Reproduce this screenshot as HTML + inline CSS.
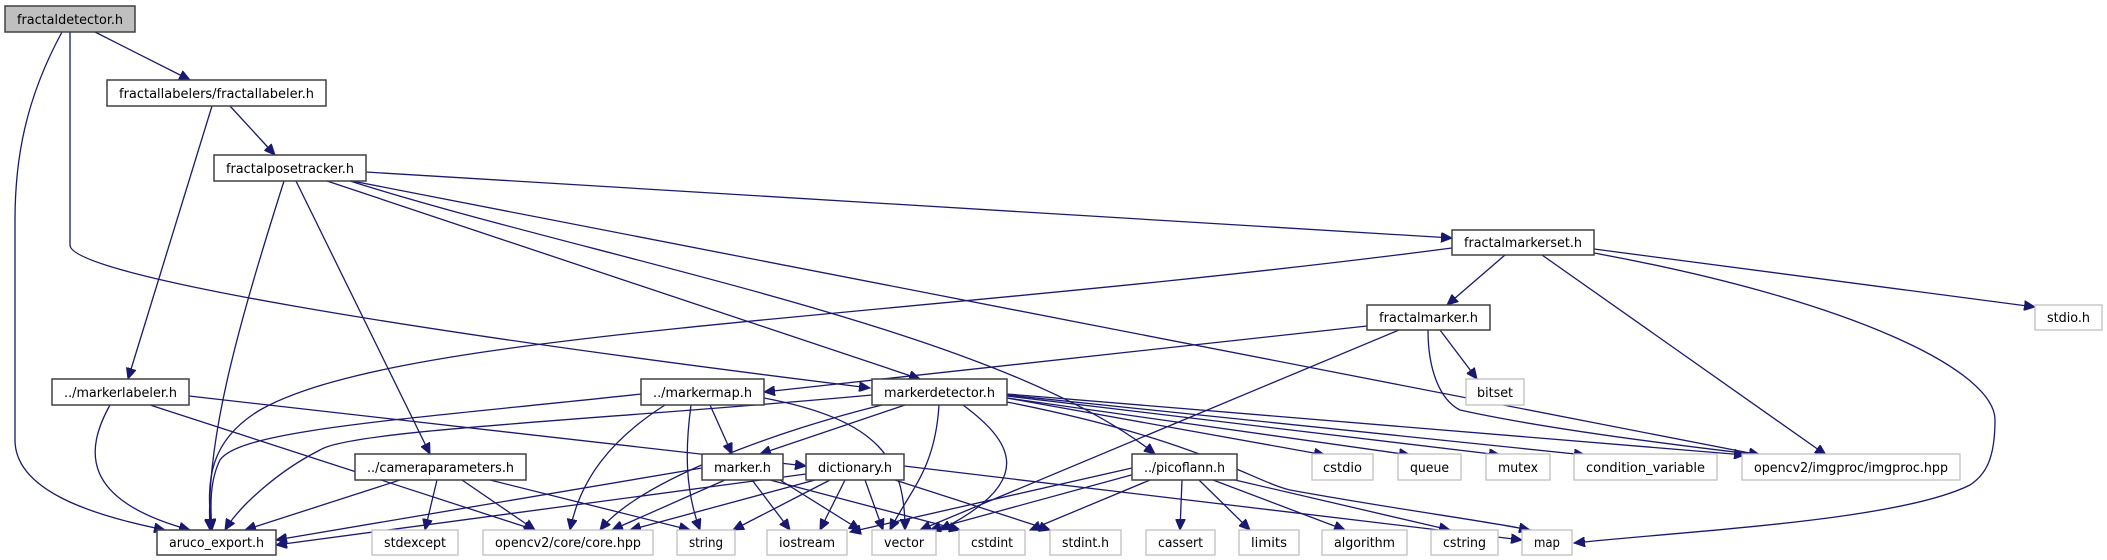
<!DOCTYPE html>
<html><head><meta charset="utf-8"><style>
html,body{margin:0;padding:0;background:#fff;}
svg{display:block;}
text{font-family:"DejaVu Sans Condensed","DejaVu Sans","Liberation Sans",sans-serif;font-size:13px;fill:#000;}
.e{fill:none;stroke:#191970;stroke-width:1.3;marker-end:url(#a);}
.n{fill:#fff;stroke:#404040;stroke-width:1.5;}
.g{fill:#fff;stroke:#bfbfbf;stroke-width:1.3;}
</style></head><body>
<svg width="2107" height="560" viewBox="0 0 2107 560" xmlns="http://www.w3.org/2000/svg">
<defs><marker id="a" markerUnits="userSpaceOnUse" markerWidth="12" markerHeight="10" refX="11" refY="5" orient="auto"><path d="M0,0 L11,5 L0,10 z" fill="#191970" stroke="#191970"/></marker></defs>
<g>
<path class="e" d="M95,32 L190,80"/>
<path class="e" d="M62,32 C25,100 15,160 15,220 L15,440 C15,490 90,515 165,530"/>
<path class="e" d="M70,32 L70,245 C70,275 400,330 870,388"/>
<path class="e" d="M212,106 L128,379"/>
<path class="e" d="M230,106 L275,155"/>
<path class="e" d="M284,181 C240,320 205,440 210,530"/>
<path class="e" d="M296,181 L430,454"/>
<path class="e" d="M366,172 L1452,238"/>
<path class="e" d="M352,181 L1760,455"/>
<path class="e" d="M350,181 C600,260 1000,330 1155,454"/>
<path class="e" d="M327,181 L920,379"/>
<path class="e" d="M1452,248 C900,320 400,330 260,410 C210,440 205,480 212,530"/>
<path class="e" d="M1505,255 L1447,305"/>
<path class="e" d="M1542,255 L1826,455"/>
<path class="e" d="M1594,249 L2035,307"/>
<path class="e" d="M1594,253 C1850,300 1995,370 1995,420 C1995,460 1985,475 1970,485 C1900,520 1700,530 1574,543"/>
<path class="e" d="M1367,326 L764,392"/>
<path class="e" d="M1399,330 L920,530"/>
<path class="e" d="M1440,330 L1477,379"/>
<path class="e" d="M1428,330 C1428,370 1440,400 1460,410 C1550,430 1700,448 1760,455"/>
<path class="e" d="M110,405 C85,450 80,500 190,530"/>
<path class="e" d="M150,405 L535,530"/>
<path class="e" d="M189,396 L806,466"/>
<path class="e" d="M641,394 C400,420 240,430 220,460 C210,480 210,505 212,530"/>
<path class="e" d="M665,405 C610,440 580,480 570,530"/>
<path class="e" d="M691,405 C685,450 685,490 700,530"/>
<path class="e" d="M710,405 L732,454"/>
<path class="e" d="M764,398 C880,420 905,460 905,530"/>
<path class="e" d="M872,395 C600,420 350,430 320,450 C280,470 240,505 225,530"/>
<path class="e" d="M882,405 C780,430 640,480 600,530"/>
<path class="e" d="M905,405 L760,454"/>
<path class="e" d="M939,405 C935,470 910,490 890,530"/>
<path class="e" d="M963,405 C1010,440 1040,480 940,530"/>
<path class="e" d="M1007,398 L1325,455"/>
<path class="e" d="M1007,398 L1410,455"/>
<path class="e" d="M1007,396 L1500,455"/>
<path class="e" d="M1007,395 L1585,455"/>
<path class="e" d="M1007,394 L1745,455"/>
<path class="e" d="M1007,402 C1200,440 1250,480 1290,490 C1400,510 1480,520 1530,530"/>
<path class="e" d="M702,468 L276,540"/>
<path class="e" d="M725,480 L612,530"/>
<path class="e" d="M752,480 L790,530"/>
<path class="e" d="M780,480 L860,530"/>
<path class="e" d="M770,480 L960,530"/>
<path class="e" d="M806,474 L276,545"/>
<path class="e" d="M815,480 L630,530"/>
<path class="e" d="M830,480 L733,530"/>
<path class="e" d="M845,480 L820,530"/>
<path class="e" d="M865,480 L883,530"/>
<path class="e" d="M895,480 L1050,530"/>
<path class="e" d="M904,466 L1522,540"/>
<path class="e" d="M400,480 L245,530"/>
<path class="e" d="M437,480 L425,530"/>
<path class="e" d="M462,480 L535,530"/>
<path class="e" d="M490,480 L690,530"/>
<path class="e" d="M1132,468 L850,532"/>
<path class="e" d="M1135,474 L930,530"/>
<path class="e" d="M1150,480 L1030,530"/>
<path class="e" d="M1182,480 L1180,530"/>
<path class="e" d="M1199,480 L1250,530"/>
<path class="e" d="M1213,480 L1345,530"/>
<path class="e" d="M1235,480 L1450,530"/>
</g>
<g>
<rect x="5" y="6" width="130" height="26" fill="#bfbfbf" stroke="#404040" stroke-width="1.5"/>
<text x="70" y="24" text-anchor="middle" textLength="106" lengthAdjust="spacingAndGlyphs">fractaldetector.h</text>
<rect class="n" x="107" y="80" width="219" height="26"/><text x="216.5" y="98" text-anchor="middle" textLength="195" lengthAdjust="spacingAndGlyphs">fractallabelers/fractallabeler.h</text>
<rect class="n" x="214" y="155" width="152" height="26"/><text x="290" y="173" text-anchor="middle" textLength="128" lengthAdjust="spacingAndGlyphs">fractalposetracker.h</text>
<rect class="n" x="1452" y="230" width="142" height="25"/><text x="1523" y="247" text-anchor="middle" textLength="118" lengthAdjust="spacingAndGlyphs">fractalmarkerset.h</text>
<rect class="n" x="1367" y="305" width="123" height="25"/><text x="1428.5" y="322" text-anchor="middle" textLength="99" lengthAdjust="spacingAndGlyphs">fractalmarker.h</text>
<rect class="g" x="2035" y="305" width="67" height="25"/><text x="2068.5" y="322" text-anchor="middle" textLength="43" lengthAdjust="spacingAndGlyphs">stdio.h</text>
<rect class="n" x="52" y="379" width="137" height="26"/><text x="120.5" y="397" text-anchor="middle" textLength="113" lengthAdjust="spacingAndGlyphs">../markerlabeler.h</text>
<rect class="n" x="641" y="379" width="123" height="26"/><text x="702.5" y="397" text-anchor="middle" textLength="99" lengthAdjust="spacingAndGlyphs">../markermap.h</text>
<rect class="n" x="872" y="379" width="135" height="26"/><text x="939.5" y="397" text-anchor="middle" textLength="111" lengthAdjust="spacingAndGlyphs">markerdetector.h</text>
<rect class="g" x="1466" y="379" width="58" height="26"/><text x="1495" y="397" text-anchor="middle" textLength="36" lengthAdjust="spacingAndGlyphs">bitset</text>
<rect class="n" x="355" y="454" width="171" height="26"/><text x="440.5" y="472" text-anchor="middle" textLength="147" lengthAdjust="spacingAndGlyphs">../cameraparameters.h</text>
<rect class="n" x="702" y="454" width="81" height="26"/><text x="742.5" y="472" text-anchor="middle" textLength="57" lengthAdjust="spacingAndGlyphs">marker.h</text>
<rect class="n" x="806" y="454" width="98" height="26"/><text x="855" y="472" text-anchor="middle" textLength="74" lengthAdjust="spacingAndGlyphs">dictionary.h</text>
<rect class="n" x="1132" y="454" width="105" height="26"/><text x="1184.5" y="472" text-anchor="middle" textLength="81" lengthAdjust="spacingAndGlyphs">../picoflann.h</text>
<rect class="g" x="1312" y="454" width="61" height="26"/><text x="1342.5" y="472" text-anchor="middle" textLength="39" lengthAdjust="spacingAndGlyphs">cstdio</text>
<rect class="g" x="1398" y="454" width="63" height="26"/><text x="1429.5" y="472" text-anchor="middle" textLength="39" lengthAdjust="spacingAndGlyphs">queue</text>
<rect class="g" x="1486" y="454" width="64" height="26"/><text x="1518" y="472" text-anchor="middle" textLength="40" lengthAdjust="spacingAndGlyphs">mutex</text>
<rect class="g" x="1574" y="454" width="143" height="26"/><text x="1645.5" y="472" text-anchor="middle" textLength="119" lengthAdjust="spacingAndGlyphs">condition_variable</text>
<rect class="g" x="1742" y="454" width="218" height="26"/><text x="1851" y="472" text-anchor="middle" textLength="194" lengthAdjust="spacingAndGlyphs">opencv2/imgproc/imgproc.hpp</text>
<rect class="n" x="157" y="530" width="119" height="25"/><text x="216.5" y="547" text-anchor="middle" textLength="95" lengthAdjust="spacingAndGlyphs">aruco_export.h</text>
<rect class="g" x="372" y="530" width="86" height="25"/><text x="415" y="547" text-anchor="middle" textLength="62" lengthAdjust="spacingAndGlyphs">stdexcept</text>
<rect class="g" x="483" y="530" width="170" height="25"/><text x="568" y="547" text-anchor="middle" textLength="146" lengthAdjust="spacingAndGlyphs">opencv2/core/core.hpp</text>
<rect class="g" x="677" y="530" width="58" height="25"/><text x="706" y="547" text-anchor="middle" textLength="34" lengthAdjust="spacingAndGlyphs">string</text>
<rect class="g" x="767" y="530" width="80" height="25"/><text x="807" y="547" text-anchor="middle" textLength="56" lengthAdjust="spacingAndGlyphs">iostream</text>
<rect class="g" x="872" y="530" width="64" height="25"/><text x="904" y="547" text-anchor="middle" textLength="40" lengthAdjust="spacingAndGlyphs">vector</text>
<rect class="g" x="959" y="530" width="66" height="25"/><text x="992" y="547" text-anchor="middle" textLength="42" lengthAdjust="spacingAndGlyphs">cstdint</text>
<rect class="g" x="1050" y="530" width="71" height="25"/><text x="1085.5" y="547" text-anchor="middle" textLength="47" lengthAdjust="spacingAndGlyphs">stdint.h</text>
<rect class="g" x="1146" y="530" width="69" height="25"/><text x="1180.5" y="547" text-anchor="middle" textLength="45" lengthAdjust="spacingAndGlyphs">cassert</text>
<rect class="g" x="1239" y="530" width="60" height="25"/><text x="1269" y="547" text-anchor="middle" textLength="36" lengthAdjust="spacingAndGlyphs">limits</text>
<rect class="g" x="1322" y="530" width="85" height="25"/><text x="1364.5" y="547" text-anchor="middle" textLength="61" lengthAdjust="spacingAndGlyphs">algorithm</text>
<rect class="g" x="1431" y="530" width="67" height="25"/><text x="1464.5" y="547" text-anchor="middle" textLength="43" lengthAdjust="spacingAndGlyphs">cstring</text>
<rect class="g" x="1522" y="530" width="50" height="25"/><text x="1547" y="547" text-anchor="middle" textLength="26" lengthAdjust="spacingAndGlyphs">map</text>
</g>
</svg>
</body></html>
